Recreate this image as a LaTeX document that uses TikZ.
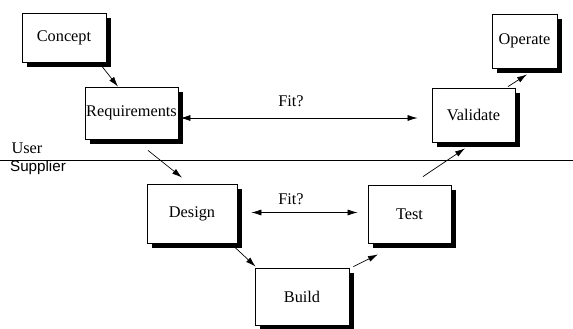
\documentclass[tikz,border=0pt]{standalone}
\usepackage{fontspec}
\setmainfont{Liberation Serif}
\newfontfamily\sansf{Liberation Sans}
\usetikzlibrary{shadows,arrows.meta}
\begin{document}
\begin{tikzpicture}[x=1pt,y=-1pt,
  stage/.style={draw=black,line width=0.8pt,fill=white,inner sep=0pt,
    font=\fontsize{16.3}{18}\selectfont,
    drop shadow={shadow xshift=5pt,shadow yshift=-5pt,fill=black,opacity=1}},
  conn/.style={line width=0.7pt,-{Latex[length=10pt,width=6pt]}},
  fit/.style={line width=0.7pt,{Latex[length=10pt,width=6pt]}-{Latex[length=10pt,width=6pt]}},
  lbl/.style={font=\fontsize{16.3}{18}\selectfont,inner sep=0pt}]
\useasboundingbox (0,0) rectangle (573,329);
\node[stage,minimum width=84pt,minimum height=49pt] (c) at (64,37.5) {Concept};
\node[stage,minimum width=93pt,minimum height=52pt] (r) at (131.5,113) {Requirements};
\node[stage,minimum width=65pt,minimum height=54pt] (o) at (524.5,41) {Operate};
\node[stage,minimum width=83pt,minimum height=54pt] (v) at (473.5,115) {Validate};
\node[stage,minimum width=90pt,minimum height=59pt] (d) at (192,213.5) {Design};
\node[stage,minimum width=94pt,minimum height=57pt] (b) at (302,296.5) {Build};
\node[stage,minimum width=83pt,minimum height=58pt] (t) at (409.5,214) {Test};
\coordinate (ls) at (0,160);
\coordinate (le) at (573,160);
\draw[line width=0.8pt] (ls) -- (le);
\node[lbl] (user) at (27,148) {User};
\node[lbl,font=\sansf\fontsize{15.2}{17}\selectfont] (sup) at (38,168) {Supplier};
\node[lbl] (fit1) at (291,101) {Fit?};
\node[lbl] (fit2) at (291,199) {Fit?};
\draw[conn] ([xshift=-6pt,yshift=-2pt]c.south east) -- ([xshift=-13.5pt]r.north);
\draw[conn] ([xshift=16.5pt,yshift=-11pt]r.south) -- ([xshift=-10pt,yshift=6pt]d.north);
\draw[fit] ([xshift=2pt,yshift=-5pt]r.east) -- ([xshift=-14pt,yshift=-3pt]v.west);
\draw[fit] ([xshift=14pt,yshift=1pt]d.east) -- ([xshift=-10pt,yshift=1.5pt]t.west);
\draw[conn] ([xshift=43pt,yshift=-4pt]d.south) -- ([xshift=1pt,yshift=1pt]b.north west);
\draw[conn] ([xshift=4pt,yshift=1pt]b.north east) -- ([xshift=-31.5pt,yshift=-11pt]t.south);
\draw[conn] ([xshift=13.5pt,yshift=8pt]t.north) -- ([xshift=-8.5pt,yshift=-6pt]v.south);
\draw[conn] ([xshift=34.5pt,yshift=1pt]v.north) -- ([xshift=2.5pt,yshift=-6pt]o.south);
\end{tikzpicture}
\end{document}
